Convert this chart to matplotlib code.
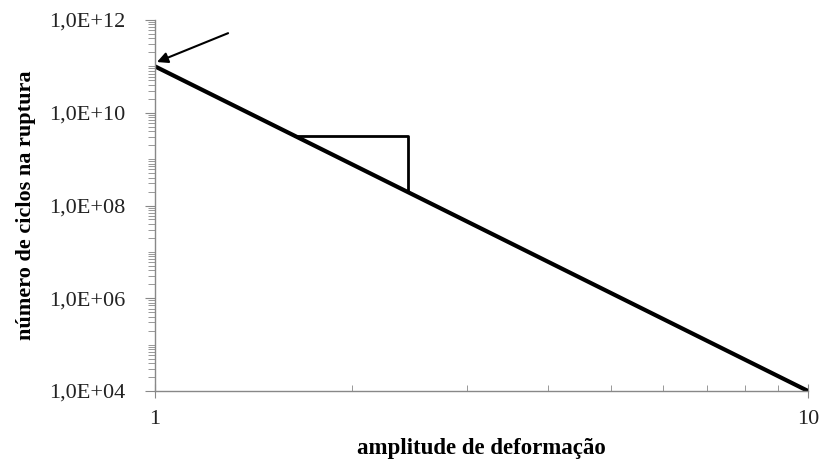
import numpy as np
import matplotlib.pyplot as plt
from matplotlib.ticker import LogLocator, FixedLocator, NullFormatter

# data
amplitude = [1, 10]
ciclos = [1e11, 1e4]
# triangle corners (slope indicator)
tri_x = [1.64, 2.44, 2.44]
tri_y = [3.16e9, 3.16e9, 1.95e8]
y_ticks = [1e4, 1e6, 1e8, 1e10, 1e12]
y_labels = ["1,0E+04", "1,0E+06", "1,0E+08", "1,0E+10", "1,0E+12"]

plt.rcParams['font.family'] = ['Liberation Serif', 'DejaVu Serif']

fig = plt.figure(figsize=(8.22, 4.66), dpi=100)
ax = fig.add_axes([155 / 822, 1 - 391 / 466, (808 - 155) / 822, (391 - 20) / 466])

ax.plot(amplitude, ciclos, color='black', lw=3.0, solid_capstyle='butt')
ax.plot(tri_x, tri_y, color='black', lw=2.0)

ax.annotate("", xy=(1.007, 1.24e11), xytext=(1.294, 5.2e11),
            arrowprops=dict(arrowstyle='-|>', color='black', lw=1.5,
                            mutation_scale=16, shrinkA=0, shrinkB=0))

ax.set_xscale('log')
ax.set_yscale('log')
ax.set_xlim(1, 10)
ax.set_ylim(1e4, 1e12)

ax.set_xticks([1, 10])
ax.set_xticklabels(["1", "10"])
ax.xaxis.set_minor_locator(FixedLocator([2, 3, 4, 5, 6, 7, 8, 9]))
ax.xaxis.set_minor_formatter(NullFormatter())
ax.tick_params(axis='x', which='minor', direction='in', length=4, color='#888888')
ax.tick_params(axis='x', which='major', direction='inout', length=10, color='#888888',
               labelsize=16, pad=9, labelcolor='#222222')

ax.yaxis.set_major_locator(FixedLocator(y_ticks))
ax.set_yticklabels(y_labels)
ax.yaxis.set_minor_locator(LogLocator(base=10, subs=np.arange(1, 10), numticks=20))
ax.yaxis.set_minor_formatter(NullFormatter())
ax.tick_params(axis='y', which='minor', direction='out', length=5, color='#888888')
ax.tick_params(axis='y', which='major', direction='out', length=7, color='#888888',
               labelsize=16, pad=14, labelcolor='#222222')

for s in ['top', 'right']:
    ax.spines[s].set_visible(False)
for s in ['left', 'bottom']:
    ax.spines[s].set_color('#888888')
    ax.spines[s].set_linewidth(1.0)

ax.set_xlabel("amplitude de deformação", fontsize=16.5, fontweight='bold', labelpad=6)
ax.set_ylabel("número de ciclos na ruptura", fontsize=16, fontweight='bold', labelpad=10)

fig.savefig("out.png", dpi=100, facecolor='white')
